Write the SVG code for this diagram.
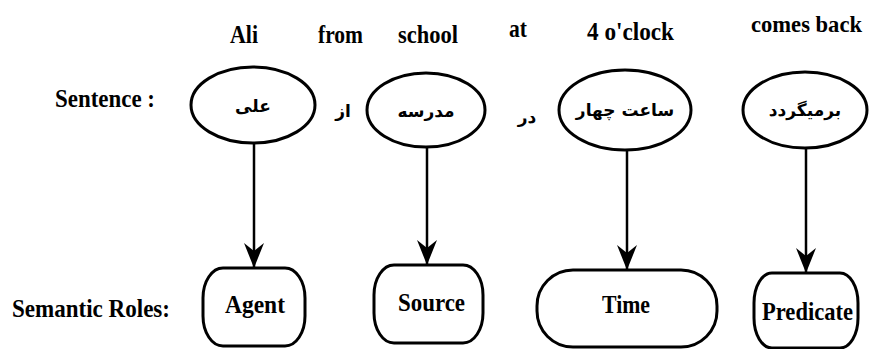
<svg xmlns="http://www.w3.org/2000/svg" width="869" height="349" viewBox="0 0 869 349">
<style>
.lbl{font-family:"Liberation Serif","Times New Roman",serif;font-weight:bold;font-size:25px;fill:#000}
.fa{font-family:"DejaVu Sans","Noto Sans",sans-serif;font-weight:bold;font-size:17px;fill:#000}
.shape{fill:#fff;stroke:#000;stroke-width:3}
.conn{stroke:#000;stroke-width:2.5;fill:none;marker-end:url(#arr)}
</style>
<defs>
<marker id="arr" markerWidth="26" markerHeight="22" refX="25" refY="11" orient="auto" markerUnits="userSpaceOnUse" viewBox="0 0 26 22">
<path d="M0,1 L8,11 L0,21 L25,11 Z" fill="#000"/>
</marker>
</defs>
<rect width="869" height="349" fill="#fff"/>
<g id="english">
<text class="lbl" x="230" y="43" textLength="28" lengthAdjust="spacingAndGlyphs">Ali</text>
<text class="lbl" x="318" y="43" textLength="45" lengthAdjust="spacingAndGlyphs">from</text>
<text class="lbl" x="398" y="43" textLength="60" lengthAdjust="spacingAndGlyphs">school</text>
<text class="lbl" x="509" y="37" textLength="18" lengthAdjust="spacingAndGlyphs">at</text>
<text class="lbl" x="587" y="40" textLength="87" lengthAdjust="spacingAndGlyphs">4 o'clock</text>
<text class="lbl" x="751" y="32" font-size="23" textLength="111" lengthAdjust="spacingAndGlyphs" style="font-size:23px">comes back</text>
</g>
<text class="lbl" x="55" y="107" textLength="100" lengthAdjust="spacingAndGlyphs">Sentence :</text>
<text class="lbl" x="12" y="317" textLength="158" lengthAdjust="spacingAndGlyphs">Semantic Roles:</text>
<text class="fa" x="343" y="117" text-anchor="middle">از</text>
<text class="fa" x="527" y="123" text-anchor="middle">در</text>
<g id="connectors">
<line class="conn" x1="254" y1="143" x2="254" y2="268"/>
<line class="conn" x1="427" y1="147" x2="427" y2="265"/>
<line class="conn" x1="627" y1="150" x2="627" y2="270"/>
<line class="conn" x1="806" y1="148" x2="806" y2="273"/>
</g>
<g id="n_ali">
<ellipse class="shape" cx="253" cy="105" rx="62" ry="38"/>
<text class="fa" x="253" y="112" text-anchor="middle">علی</text>
</g>
<g id="n_madrese">
<ellipse class="shape" cx="426" cy="110" rx="59" ry="37"/>
<text class="fa" x="426" y="117" text-anchor="middle">مدرسه</text>
</g>
<g id="n_saat">
<ellipse class="shape" cx="625" cy="110" rx="66" ry="40"/>
<text class="fa" x="625" y="116" text-anchor="middle">ساعت چهار</text>
</g>
<g id="n_bar">
<ellipse class="shape" cx="805" cy="110" rx="62" ry="38"/>
<text class="fa" x="805" y="116" text-anchor="middle">برمیگردد</text>
</g>
<g id="n_agent">
<rect class="shape" x="203" y="268" width="102" height="78" rx="20" ry="30"/>
<text class="lbl" x="225" y="313" textLength="60" lengthAdjust="spacingAndGlyphs">Agent</text>
</g>
<g id="n_source">
<rect class="shape" x="374" y="265" width="109" height="78" rx="20" ry="30"/>
<text class="lbl" x="398" y="311" textLength="67" lengthAdjust="spacingAndGlyphs">Source</text>
</g>
<g id="n_time">
<rect class="shape" x="537" y="270" width="180" height="77" rx="36" ry="36"/>
<text class="lbl" x="602" y="313" textLength="48" lengthAdjust="spacingAndGlyphs">Time</text>
</g>
<g id="n_predicate">
<rect class="shape" x="754" y="273" width="104" height="75" rx="18" ry="30"/>
<text class="lbl" x="762" y="320" textLength="91" lengthAdjust="spacingAndGlyphs">Predicate</text>
</g>
</svg>
